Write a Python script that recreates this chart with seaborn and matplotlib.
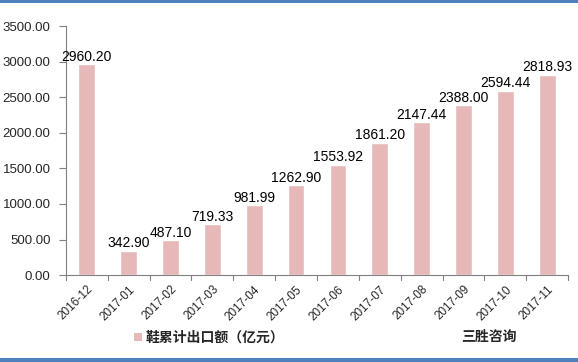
import matplotlib
matplotlib.use("Agg")
import matplotlib.pyplot as plt
import seaborn as sns
import pandas as pd
from matplotlib.patches import Rectangle

months = ["2016-12", "2017-01", "2017-02", "2017-03", "2017-04", "2017-05",
          "2017-06", "2017-07", "2017-08", "2017-09", "2017-10", "2017-11"]
values = [2960.20, 342.90, 487.10, 719.33, 981.99, 1262.90,
          1553.92, 1861.20, 2147.44, 2388.00, 2594.44, 2818.93]
series_name = "鞋累计出口额（亿元）"
source = "三胜咨询"
yticks = [0, 500, 1000, 1500, 2000, 2500, 3000, 3500]

sns.set_style("white")
plt.rcParams['font.family'] = ['Noto Sans CJK SC', 'DejaVu Sans']
numfont = ['Liberation Sans', 'DejaVu Sans']

df = pd.DataFrame({"month": months, "value": values})

fig = plt.figure(figsize=(5.78, 3.62), dpi=100)
ax = fig.add_axes([0.114, 0.240, 0.869, 0.688])
bar_color = "#E6B9B8"
sns.barplot(data=df, x="month", y="value", color=bar_color, width=0.4,
            saturation=1, ax=ax)

ax.set_ylim(0, 3500)
ax.set_xlim(-0.5, len(months) - 0.5)
ax.set_yticks(yticks)
ax.set_yticklabels([f"{v:.2f}" for v in yticks], fontsize=9.5, family=numfont)
ax.set_xticks(range(len(months)))
ax.set_xticklabels(months, rotation=45, ha='right', rotation_mode='anchor',
                   fontsize=8.5, family=numfont)
ax.tick_params(axis='x', length=0, pad=6)
ax.tick_params(axis='y', length=5, width=0.8, color='#808080', left=True, pad=6)
# category boundary ticks on x axis
for b in [i - 0.5 for i in range(len(months) + 1)]:
    ax.plot([b, b], [0, -0.02], transform=ax.get_xaxis_transform(),
            color='#808080', lw=0.8, clip_on=False)

for s in ['top', 'right']:
    ax.spines[s].set_visible(False)
for s in ['left', 'bottom']:
    ax.spines[s].set_color('#808080')
    ax.spines[s].set_linewidth(0.8)
ax.set_xlabel("")
ax.set_ylabel("")

for i, v in enumerate(values):
    ax.text(i, v + 5, f"{v:.2f}", ha='center', va='bottom', fontsize=10,
            family=numfont, color='#000000')

# legend / source
fig.patches.append(Rectangle((0.232, 0.058), 0.014, 0.022, transform=fig.transFigure,
                             facecolor=bar_color, edgecolor='none'))
fig.text(0.252, 0.068, series_name, ha='left', va='center', fontsize=10, weight='bold')
fig.text(0.797, 0.068, source, ha='left', va='center', fontsize=10, weight='bold')

# border lines
fig.patches.append(Rectangle((0, 0.993), 1, 0.007, transform=fig.transFigure,
                             facecolor='#4F81BD', edgecolor='none'))
fig.patches.append(Rectangle((0, 0.0), 1, 0.01, transform=fig.transFigure,
                             facecolor='#4F81BD', edgecolor='none'))

fig.savefig("out.png", dpi=100)
